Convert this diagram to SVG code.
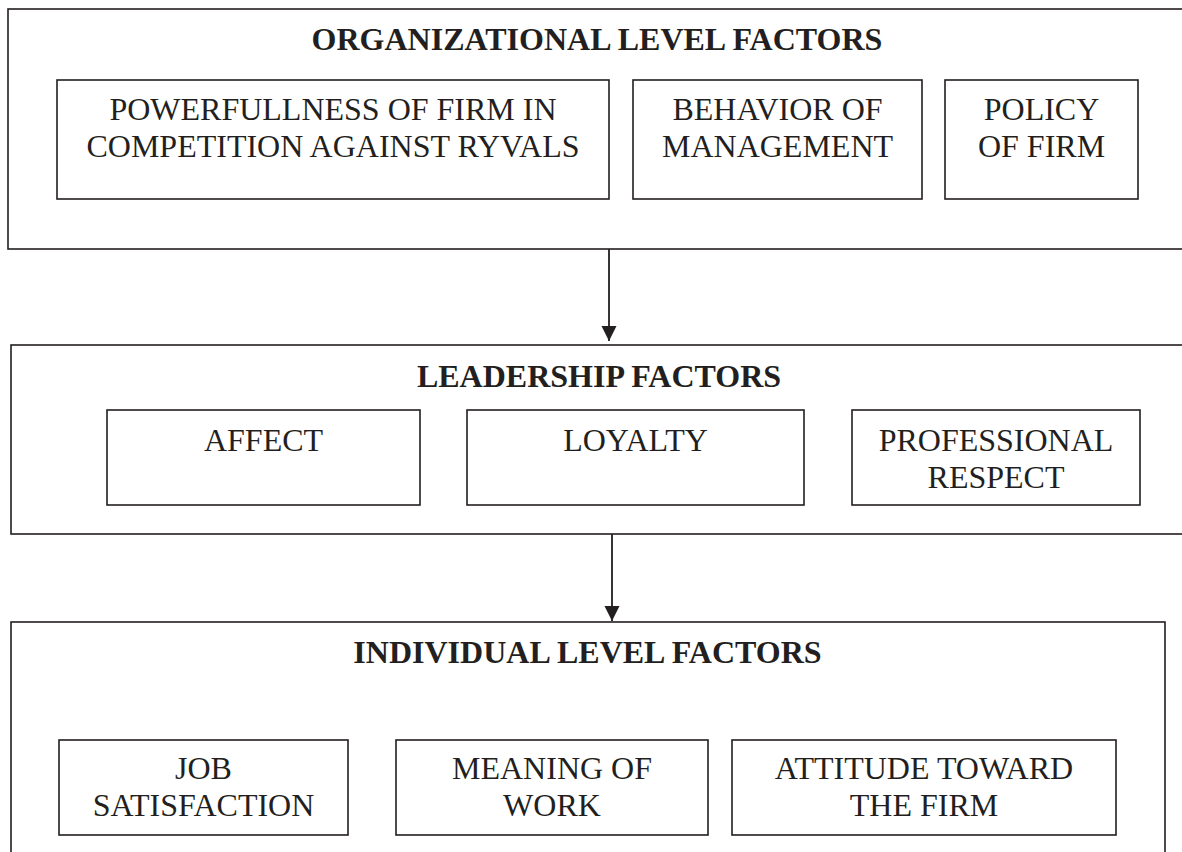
<svg xmlns="http://www.w3.org/2000/svg" width="1182" height="852" viewBox="0 0 1182 852">
  <style>
    .box { fill: none; stroke: #231f20; stroke-width: 1.6; }
    .title { font-family: "Liberation Serif", "Times New Roman", serif; font-weight: bold; font-size: 32px; fill: #231f20; text-anchor: middle; }
    .lbl { font-family: "Liberation Serif", "Times New Roman", serif; font-size: 32px; fill: #231f20; text-anchor: middle; }
    .conn { stroke: #231f20; stroke-width: 1.8; fill: none; }
  </style>
  <defs>
    <marker id="arrow" markerUnits="userSpaceOnUse" markerWidth="16" markerHeight="16" refX="15" refY="7.5" orient="auto">
      <path d="M0,0 L15,7.5 L0,15 z" fill="#231f20"/>
    </marker>
  </defs>
  <rect width="1182" height="852" fill="#ffffff"/>

  <g id="organizational">
    <rect class="box" x="8" y="9" width="1200" height="240"/>
    <text class="title" x="597" y="50">ORGANIZATIONAL LEVEL FACTORS</text>
  </g>
  <g id="powerfullness">
    <rect class="box" x="57" y="80" width="552" height="119"/>
    <text class="lbl" x="333" y="120">POWERFULLNESS OF FIRM IN</text>
    <text class="lbl" x="333" y="157">COMPETITION AGAINST RYVALS</text>
  </g>
  <g id="behavior">
    <rect class="box" x="633" y="80" width="289" height="119"/>
    <text class="lbl" x="777.5" y="120">BEHAVIOR OF</text>
    <text class="lbl" x="777.5" y="157">MANAGEMENT</text>
  </g>
  <g id="policy">
    <rect class="box" x="945" y="80" width="193" height="119"/>
    <text class="lbl" x="1041.5" y="120">POLICY</text>
    <text class="lbl" x="1041.5" y="157">OF FIRM</text>
  </g>

  <g id="leadership">
    <rect class="box" x="11" y="345" width="1200" height="189"/>
    <text class="title" x="599" y="387">LEADERSHIP FACTORS</text>
  </g>
  <g id="affect">
    <rect class="box" x="107" y="410" width="313" height="95"/>
    <text class="lbl" x="263.5" y="451">AFFECT</text>
  </g>
  <g id="loyalty">
    <rect class="box" x="467" y="410" width="337" height="95"/>
    <text class="lbl" x="635.5" y="451">LOYALTY</text>
  </g>
  <g id="professional">
    <rect class="box" x="852" y="410" width="288" height="95"/>
    <text class="lbl" x="996" y="451">PROFESSIONAL</text>
    <text class="lbl" x="996" y="488">RESPECT</text>
  </g>

  <g id="individual">
    <rect class="box" x="11" y="622" width="1154" height="260"/>
    <text class="title" x="587.5" y="663">INDIVIDUAL LEVEL FACTORS</text>
  </g>
  <g id="job">
    <rect class="box" x="59" y="740" width="289" height="95"/>
    <text class="lbl" x="203.5" y="779">JOB</text>
    <text class="lbl" x="203.5" y="816">SATISFACTION</text>
  </g>
  <g id="meaning">
    <rect class="box" x="396" y="740" width="312" height="95"/>
    <text class="lbl" x="552" y="779">MEANING OF</text>
    <text class="lbl" x="552" y="816">WORK</text>
  </g>
  <g id="attitude">
    <rect class="box" x="732" y="740" width="384" height="95"/>
    <text class="lbl" x="924" y="779">ATTITUDE TOWARD</text>
    <text class="lbl" x="924" y="816">THE FIRM</text>
  </g>

  <g id="connectors">
    <line class="conn" x1="609" y1="249" x2="609" y2="341" marker-end="url(#arrow)"/>
    <line class="conn" x1="612" y1="534" x2="612" y2="621" marker-end="url(#arrow)"/>
  </g>
</svg>
